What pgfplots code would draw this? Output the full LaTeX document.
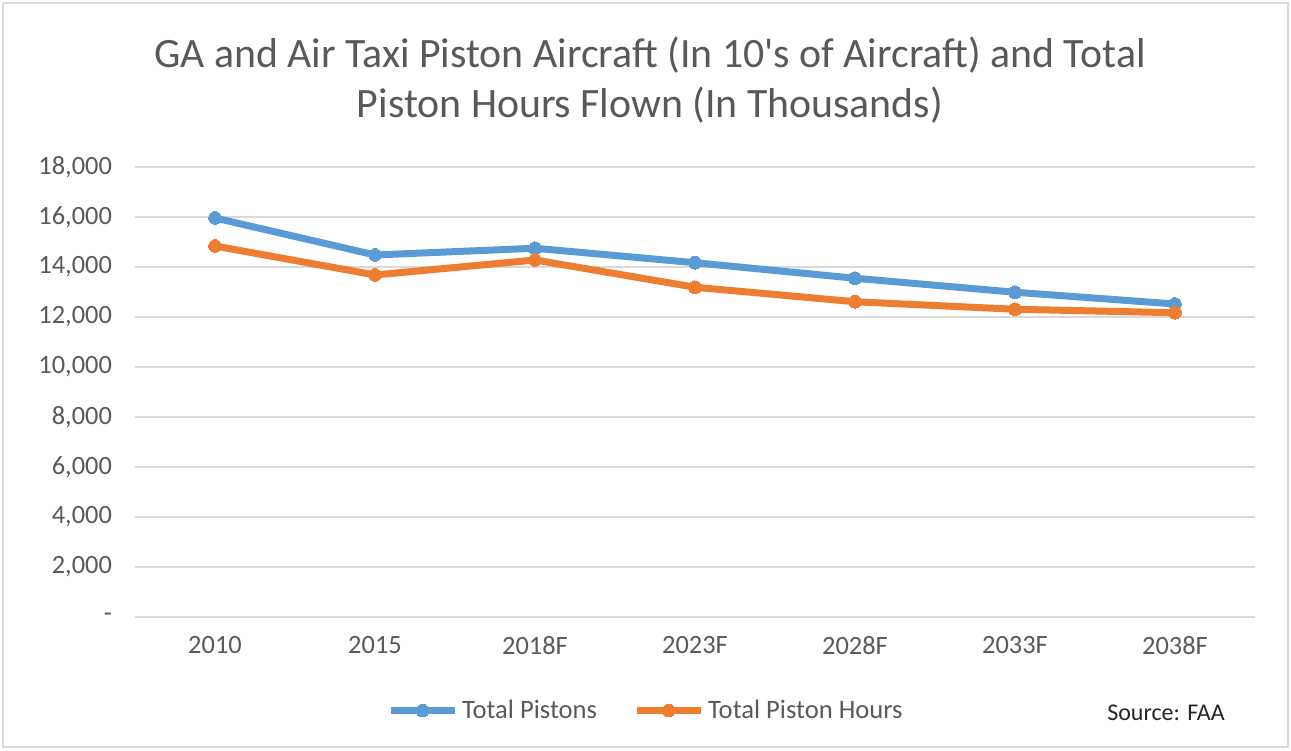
\documentclass[border=0pt]{standalone}
\usepackage{pgfplots}
\pgfplotsset{compat=1.18}
\usepackage{fontspec}
\setmainfont{Carlito}
\newfontfamily\titlefont{Carlito}
\definecolor{xblue}{HTML}{5B9BD5}
\definecolor{xorange}{HTML}{ED7D31}
\definecolor{xgrid}{HTML}{D9D9D9}
\definecolor{xtext}{HTML}{595959}
\begin{document}
\begin{tikzpicture}
\path[use as bounding box] (0,0) rectangle (645.5pt,375pt);
\draw[color=xgrid, line width=0.8pt] (1.5pt,1.5pt) rectangle (644pt,373.5pt);
\begin{axis}[
  at={(67.5pt,66.5pt)}, anchor=south west,
  scale only axis, width=560pt, height=225pt,
  xmin=-0.5, xmax=6.5, ymin=0, ymax=18000,
  scaled y ticks=false,
  xtick={0,1,2,3,4,5,6},
  xticklabels={2010,2015,2018F,2023F,2028F,2033F,2038F},
  ytick={0,2000,4000,6000,8000,10000,12000,14000,16000,18000},
  yticklabels={{-},{2,000},{4,000},{6,000},{8,000},{10,000},{12,000},{14,000},{16,000},{18,000}},
  axis line style={draw=none},
  major tick length=0pt,
  ymajorgrids, grid style={color=xgrid, line width=0.8pt},
  tick label style={font=\fontsize{13.2}{15}\selectfont, text=xtext},
  xticklabel style={yshift=-6pt},
  yticklabel style={xshift=-8pt},
  legend columns=2,
  legend style={at={(0.457,-0.208)}, anchor=center, draw=none, fill=none,
    font=\fontsize{13.3}{15}\selectfont, text=xtext,
    /tikz/every even column/.append style={column sep=16pt}},
  legend image code/.code={\draw[mark repeat=2,mark phase=2,#1] plot coordinates {(0pt,0pt)(16pt,0pt)(32pt,0pt)};},
]
\addplot[color=xblue, line width=3.5pt, mark=*, mark size=3.2pt, mark options={fill=xblue, draw=xblue, line width=0pt}]
  coordinates {(0,15960) (1,14480) (2,14750) (3,14170) (4,13550) (5,12990) (6,12520)};
\addlegendentry{Total Pistons}
\addplot[color=xorange, line width=3.5pt, mark=*, mark size=3.2pt, mark options={fill=xorange, draw=xorange, line width=0pt}]
  coordinates {(0,14840) (1,13680) (2,14280) (3,13190) (4,12610) (5,12310) (6,12170)};
\addlegendentry{Total Piston Hours}
\end{axis}
\node[align=center, text=xtext, font=\titlefont\fontsize{20.9}{25}\selectfont] at (325pt,335pt)
  {GA and Air Taxi Piston Aircraft (In 10's of Aircraft) and Total\\Piston Hours Flown (In Thousands)};
\node[font=\fontsize{12}{14}\selectfont, text=black!85] at (583pt,18.5pt) {Source: FAA};
\end{tikzpicture}
\end{document}
